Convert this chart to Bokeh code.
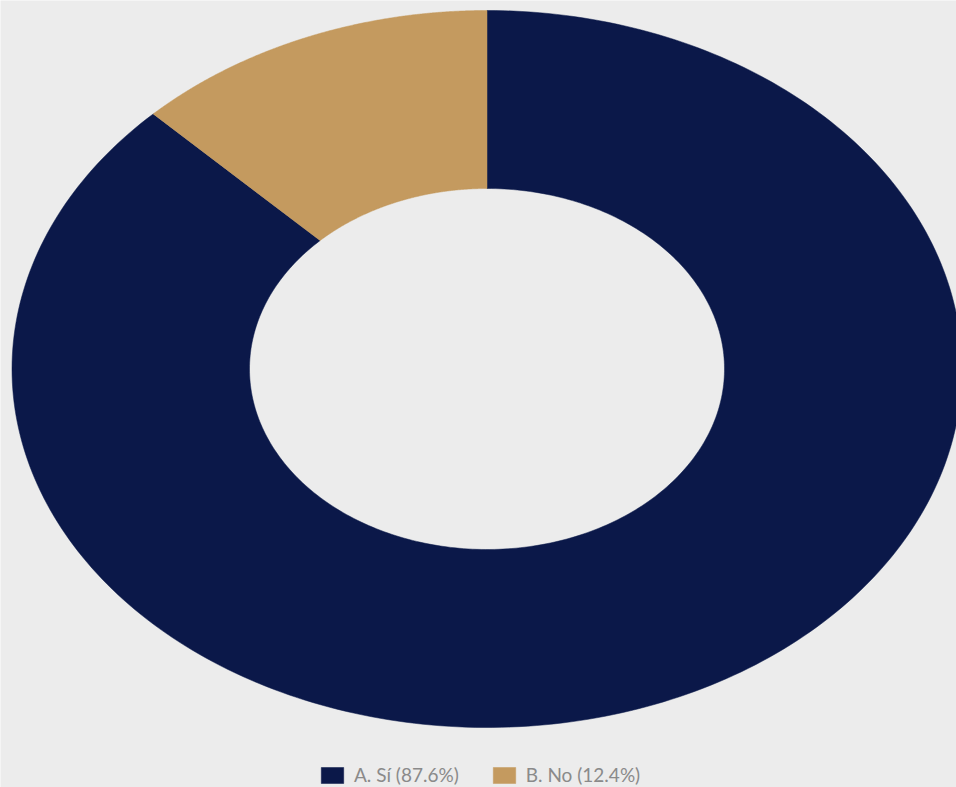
import numpy as np
from bokeh.plotting import figure
from bokeh.models import Range1d, Legend, LegendItem
from bokeh.embed import file_html
from bokeh.resources import INLINE

categories = ["A. Sí", "B. No"]
values = [87.6, 12.4]
colors = ["#0b1849", "#c49a5f"]

W, H = 956, 787
p = figure(width=W, height=H, output_backend="svg", toolbar_location=None,
           x_range=Range1d(0, W), y_range=Range1d(0, H), min_border=0)
p.axis.visible = False
p.grid.visible = False
p.outline_line_color = None
p.background_fill_color = "#ececec"
p.border_fill_color = "#ececec"

cx, cy = 486.5, 418.5
rx_o, ry_o = 475, 358.5
rx_i, ry_i = 237.5, 180.5

total = sum(values)
start = np.pi / 2
items = []
for cat, v, c in zip(categories, values, colors):
    sweep = 2 * np.pi * v / total
    t = np.linspace(start, start - sweep, 300)
    xs = np.concatenate([cx + rx_o * np.cos(t), cx + rx_i * np.cos(t[::-1])])
    ys = np.concatenate([cy + ry_o * np.sin(t), cy + ry_i * np.sin(t[::-1])])
    r = p.patch(list(xs), list(ys), fill_color=c, line_color=c, line_width=0.5)
    items.append(LegendItem(label=f"{cat} ({v}%)", renderers=[r]))
    start -= sweep

legend = Legend(items=items, orientation="horizontal", location=(318, 1),
                glyph_width=28, glyph_height=20, label_standoff=8, spacing=31,
                label_height=22, padding=0, margin=0,
                label_text_font="Lato", label_text_font_size="19px",
                label_text_color="#8a8a8a",
                background_fill_alpha=0, border_line_alpha=0)
p.add_layout(legend, "center")

open("out.html", "w").write(file_html(p, INLINE))
